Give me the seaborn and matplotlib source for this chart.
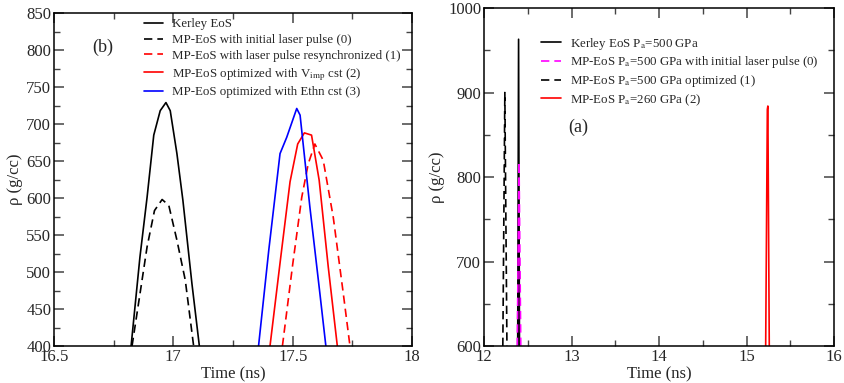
import pandas as pd
import matplotlib.pyplot as plt
import seaborn as sns

# panel (b) curves: time (ns) / density (g/cc)
kerley_t = [16.823, 16.860, 16.890, 16.918, 16.945, 16.969, 16.987, 17.015, 17.040, 17.078, 17.109]
kerley_rho = [400, 520, 601, 685, 718, 729, 718, 660, 597, 484, 400]
mp0_t = [16.827, 16.860, 16.890, 16.921, 16.953, 16.981, 17.015, 17.050, 17.085]
mp0_rho = [400, 470, 534, 583, 598, 590, 543, 489, 400]
mp1_t = [17.457, 17.500, 17.538, 17.565, 17.593, 17.628, 17.670, 17.712, 17.740]
mp1_rho = [400, 510, 601, 646, 673, 651, 574, 471, 400]
mp2_t = [17.405, 17.450, 17.489, 17.521, 17.549, 17.579, 17.611, 17.649, 17.687]
mp2_rho = [400, 520, 622, 673, 688, 685, 624, 507, 400]
mp3_t = [17.357, 17.400, 17.447, 17.475, 17.517, 17.531, 17.572, 17.614, 17.639]
mp3_rho = [400, 530, 660, 682, 721, 712, 588, 471, 400]

# panel (a) spikes
ker500_t = [12.385, 12.395, 12.405]
ker500_rho = [600, 963, 600]
mp500_0_t = [12.380, 12.400, 12.420]
mp500_0_rho = [600, 818, 600]
mp500_1_t = [12.215, 12.238, 12.262]
mp500_1_rho = [600, 900, 600]
mp260_t = [15.219, 15.238, 15.244, 15.260]
mp260_rho = [600, 880, 884, 600]

sns.set_theme(style="ticks")
plt.rcParams["font.family"] = ["Liberation Serif", "DejaVu Serif"]
plt.rcParams["mathtext.fontset"] = "stix"
plt.rcParams["axes.linewidth"] = 1.1
plt.rcParams["xtick.direction"] = "in"
plt.rcParams["ytick.direction"] = "in"

fig = plt.figure(figsize=(8.45, 3.83), dpi=100)
ax_b = fig.add_axes([0.0639, 0.0966, 0.4237, 0.8694])
ax_a = fig.add_axes([0.5728, 0.0966, 0.4142, 0.8825])

dash = (0, (5, 3))


def draw(ax, t, rho, color, ls, label, lw=1.2):
    df = pd.DataFrame({"t": t, "rho": rho})
    sns.lineplot(data=df, x="t", y="rho", ax=ax, color=color, linestyle=ls,
                 linewidth=lw, label=label, sort=False, estimator=None)


draw(ax_b, kerley_t, kerley_rho, "black", "-", "Kerley EoS")
draw(ax_b, mp0_t, mp0_rho, "black", dash, "MP-EoS with initial laser pulse (0)")
draw(ax_b, mp1_t, mp1_rho, "red", dash, "MP-EoS with laser pulse resynchronized (1)")
draw(ax_b, mp2_t, mp2_rho, "red", "-", r"MP-EoS optimized with V$_{\mathrm{imp}}$ cst (2)")
draw(ax_b, mp3_t, mp3_rho, "blue", "-", "MP-EoS optimized with Ethn cst (3)")

draw(ax_a, ker500_t, ker500_rho, "black", "-", r"Kerley EoS P$_{\mathrm{a}}$=500 GPa")
draw(ax_a, mp500_0_t, mp500_0_rho, "magenta", dash,
     r"MP-EoS P$_{\mathrm{a}}$=500 GPa with initial laser pulse (0)")
draw(ax_a, mp500_1_t, mp500_1_rho, "black", dash,
     r"MP-EoS P$_{\mathrm{a}}$=500 GPa optimized (1)")
draw(ax_a, mp260_t, mp260_rho, "red", "-", r"MP-EoS P$_{\mathrm{a}}$=260 GPa (2)")

ax_b.set_xlim(16.5, 18)
ax_b.set_ylim(400, 850)
ax_b.set_xticks([16.5, 17, 17.5, 18])
ax_b.set_xticklabels(["16.5", "17", "17.5", "18"])
ax_b.set_xticks([16.75, 17.25, 17.75], minor=True)
ax_b.set_yticks(range(400, 851, 50))
ax_b.set_yticks(range(425, 850, 50), minor=True)
ax_b.text(16.66, 803, "(b)", fontsize=13, va="center")

ax_a.set_xlim(12, 16)
ax_a.set_ylim(600, 1000)
ax_a.set_xticks([12, 13, 14, 15, 16])
ax_a.set_xticks([12.5, 13.5, 14.5, 15.5], minor=True)
ax_a.set_yticks([600, 700, 800, 900, 1000])
ax_a.set_yticks([650, 750, 850, 950], minor=True)
ax_a.text(12.96, 859, "(a)", fontsize=13, va="center")

for ax in (ax_b, ax_a):
    ax.set_xlabel("Time (ns)", fontsize=12, labelpad=1)
    ax.set_ylabel("ρ (g/cc)", fontsize=12, labelpad=2)
    ax.tick_params(which="both", top=True, right=True, labelsize=12, color="#444444")
    ax.tick_params(which="major", length=7, width=1.1, pad=2)
    ax.tick_params(which="minor", length=4, width=1.0)
    for s in ax.spines.values():
        s.set_color("black")

ax_b.legend(loc="upper left", bbox_to_anchor=(0.225, 1.012), frameon=False,
            fontsize=9.3, handlelength=1.5, handletextpad=0.7, labelspacing=0.3,
            borderpad=0.2)
ax_a.legend(loc="upper left", bbox_to_anchor=(0.138, 0.945), frameon=False,
            fontsize=9.3, handlelength=1.5, handletextpad=0.7, labelspacing=0.22,
            borderpad=0.2)

plt.savefig("out.png", dpi=100)
